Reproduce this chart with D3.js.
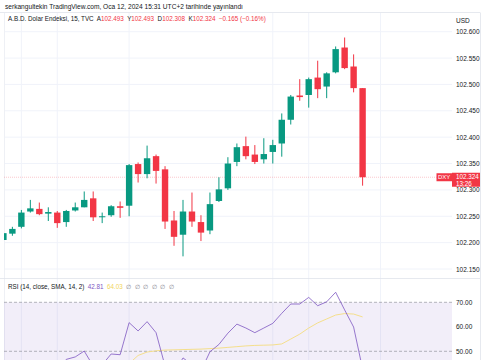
<!DOCTYPE html>
<html>
<head>
<meta charset="utf-8">
<script src="https://cdn.jsdelivr.net/npm/d3@7"></script>
<style>
  body { margin: 0; background: #fff; }
  svg { display: block; font-family: "Liberation Sans", Arial, sans-serif; }
</style>
</head>
<body>
<svg id="chart" width="485" height="360"></svg>
<script>
// 15 min DXY candles
const opens  = [102.205,102.217,102.230,102.259,102.264,102.255,102.257,102.239,102.261,102.267,
                102.284,102.249,102.252,102.269,102.270,102.349,102.330,102.364,102.339,102.242,
                102.215,102.259,102.239,102.223,102.279,102.303,102.353,102.383,102.367,102.358,
                102.372,102.388,102.433,102.479,102.480,102.513,102.496,102.523,102.570,102.534,102.493];
const highs  = [102.221,102.230,102.262,102.281,102.276,102.267,102.260,102.262,102.276,102.297,
                102.297,102.257,102.271,102.278,102.349,102.352,102.384,102.367,102.345,102.260,
                102.281,102.295,102.252,102.295,102.324,102.362,102.388,102.401,102.385,102.398,
                102.395,102.445,102.480,102.510,102.513,102.545,102.523,102.572,102.589,102.557,102.493];
const lows   = [102.200,102.213,102.227,102.257,102.252,102.241,102.228,102.230,102.259,102.267,
                102.241,102.237,102.249,102.247,102.250,102.314,102.322,102.312,102.226,102.194,
                102.174,102.230,102.203,102.216,102.277,102.300,102.345,102.358,102.349,102.350,
                102.350,102.363,102.424,102.469,102.456,102.474,102.474,102.521,102.529,102.485,102.308];
const closes = [102.218,102.226,102.257,102.265,102.254,102.258,102.237,102.260,102.267,102.281,
                102.248,102.250,102.269,102.266,102.347,102.330,102.360,102.336,102.240,102.211,
                102.259,102.240,102.219,102.273,102.301,102.350,102.381,102.364,102.353,102.368,
                102.385,102.433,102.477,102.476,102.510,102.491,102.521,102.567,102.531,102.493,102.324];

const rsi   = [38,40,44,45,43,44,41,46.7,47.7,50.1,
               44,44.5,48.9,48.6,61.7,58.3,62.1,57.6,44,41,
               47.3,44.5,42,49.8,52.8,57.4,61.1,59.5,57.6,59.5,
               61.4,65.5,69.3,69.3,72,68.6,70.2,74.1,66.9,59.9,42.81];
const rsiMa = [null,null,null,null,null,null,null,null,null,null,
               null,null,null,null,45,48.3,49.7,50.2,50.5,50.6,
               50.7,50.8,50.9,51.1,51.3,51.6,51.9,52.2,52.4,52.5,
               52.6,53.0,55.0,57.0,59.5,61.6,63.2,64.8,65.4,65.2,64.03];

const priceTicks = [102.15,102.20,102.25,102.30,102.35,102.40,102.45,102.50,102.55,102.60];
const rsiTicks = [50,60,70];
const timeGridIdx = [2,6,14,30,34,42];

const UP = "#089981", DOWN = "#F23645";
const svg = d3.select("#chart");
const plotL = 4, plotR = 452, axisR = 480;
const priceTop = 13, priceBot = 278, rsiTop = 279, rsiBot = 360;

const x = d3.scaleLinear().domain([0, 40]).range([3.4, 362.6]);
const y = d3.scaleLinear().domain([102.15, 102.60]).range([269, 31.7]);
const yr = d3.scaleLinear().domain([50, 70]).range([351.3, 302.3]);

const defs = svg.append("defs");
defs.append("clipPath").attr("id", "clipPrice").append("rect")
  .attr("x", plotL).attr("y", priceTop).attr("width", plotR - plotL).attr("height", priceBot - priceTop);
defs.append("clipPath").attr("id", "clipRsi").append("rect")
  .attr("x", plotL).attr("y", rsiTop).attr("width", plotR - plotL).attr("height", rsiBot - rsiTop);

// header
svg.append("text").attr("x", 5).attr("y", 8.6).attr("font-size", 6.6).attr("fill", "#131722")
  .text("serkangultekin TradingView.com, Oca 12, 2024 15:31 UTC+2 tarihinde yayınlandı");
svg.append("line").attr("x1", 0).attr("x2", axisR).attr("y1", 12.5).attr("y2", 12.5)
  .attr("stroke", "#e0e3eb").attr("stroke-width", 0.8);

// grid
const grid = svg.append("g");
grid.selectAll(".hg").data(priceTicks).enter().append("line")
  .attr("x1", plotL).attr("x2", plotR).attr("y1", d => y(d)).attr("y2", d => y(d))
  .attr("stroke", "#f0f3fa").attr("stroke-width", 1);
grid.selectAll(".vg").data(timeGridIdx).enter().append("line")
  .attr("x1", d => x(d)).attr("x2", d => x(d)).attr("y1", priceTop).attr("y2", rsiBot)
  .attr("stroke", "#f0f3fa").attr("stroke-width", 1);
grid.append("line").attr("x1", plotL + 0.5).attr("x2", plotL + 0.5).attr("y1", priceTop).attr("y2", rsiBot)
  .attr("stroke", "#eef0f5");

// RSI band
const rsiG = svg.append("g").attr("clip-path", "url(#clipRsi)");
rsiG.append("rect").attr("x", plotL).attr("width", plotR - plotL)
  .attr("y", yr(70)).attr("height", yr(30) - yr(70)).attr("fill", "#7E57C2").attr("fill-opacity", 0.1);
rsiG.selectAll(".lvl").data([70, 50, 30]).enter().append("line")
  .attr("x1", plotL).attr("x2", plotR).attr("y1", d => yr(d)).attr("y2", d => yr(d))
  .attr("stroke", "#9598a1").attr("stroke-width", 0.7).attr("stroke-dasharray", "3,2");

// candles
const priceG = svg.append("g").attr("clip-path", "url(#clipPrice)");
priceG.append("line").attr("x1", plotL).attr("x2", plotR)
  .attr("y1", y(closes[40])).attr("y2", y(closes[40]))
  .attr("stroke", DOWN).attr("stroke-opacity", 0.35).attr("stroke-width", 0.8).attr("stroke-dasharray", "1,1");

const idx = d3.range(opens.length);
const col = i => closes[i] >= opens[i] ? UP : DOWN;
priceG.selectAll(".wick").data(idx).enter().append("line")
  .attr("x1", i => x(i)).attr("x2", i => x(i))
  .attr("y1", i => y(highs[i])).attr("y2", i => y(lows[i]))
  .attr("stroke", col).attr("stroke-width", 1);
const bw = 6.4;
priceG.selectAll(".body").data(idx).enter().append("rect")
  .attr("x", i => x(i) - bw / 2).attr("width", bw)
  .attr("y", i => y(Math.max(opens[i], closes[i])))
  .attr("height", i => Math.max(1, Math.abs(y(opens[i]) - y(closes[i]))))
  .attr("fill", col);

// RSI lines
const line = d3.line().defined(d => d[1] != null).x(d => x(d[0])).y(d => yr(d[1]));
rsiG.append("path").attr("d", line(rsiMa.map((v, i) => [i, v])))
  .attr("fill", "none").attr("stroke", "#f5df8c").attr("stroke-width", 1);
rsiG.append("path").attr("d", line(rsi.map((v, i) => [i, v])))
  .attr("fill", "none").attr("stroke", "#7E57C2").attr("stroke-width", 0.8);

// pane separator and right border
svg.append("line").attr("x1", 0).attr("x2", axisR).attr("y1", 278.5).attr("y2", 278.5)
  .attr("stroke", "#e0e3eb").attr("stroke-width", 0.8);
svg.append("line").attr("x1", axisR + 0.5).attr("x2", axisR + 0.5).attr("y1", 12.5).attr("y2", rsiBot)
  .attr("stroke", "#e0e3eb").attr("stroke-width", 0.8);

// axes
const axisStyle = g => {
  g.select(".domain").remove();
  g.selectAll("text").attr("fill", "#131722").attr("font-size", 6.5)
    .attr("font-family", "Liberation Sans, Arial, sans-serif");
};
svg.append("g").attr("transform", `translate(${plotR},0)`)
  .call(d3.axisRight(y).tickValues(priceTicks).tickSize(0).tickPadding(4).tickFormat(d3.format(".3f")))
  .call(axisStyle);
svg.append("g").attr("transform", `translate(${plotR},0)`)
  .call(d3.axisRight(yr).tickValues(rsiTicks).tickSize(0).tickPadding(4).tickFormat(d3.format(".2f")))
  .call(axisStyle);
svg.append("text").attr("x", 456).attr("y", 22.5).attr("font-size", 6.5).attr("fill", "#131722").text("USD");

// last price labels
const ly = y(closes[40]);
svg.append("rect").attr("x", plotR).attr("y", ly - 4.5).attr("width", axisR - plotR).attr("height", 14)
  .attr("fill", DOWN);
svg.append("text").attr("x", 456).attr("y", ly + 2).attr("font-size", 6.3).attr("fill", "#fff").text("102.324");
svg.append("text").attr("x", 456).attr("y", ly + 8.6).attr("font-size", 6.3).attr("fill", "#fff").text("13:26");
svg.append("rect").attr("x", 436.5).attr("y", ly - 4).attr("width", 15.5).attr("height", 8)
  .attr("fill", DOWN);
svg.append("text").attr("x", 444.2).attr("y", ly + 2.2).attr("font-size", 6).attr("fill", "#fff")
  .attr("text-anchor", "middle").text("DXY");

// price legend
const leg = svg.append("text").attr("x", 8).attr("y", 20.6).attr("font-size", 6.3).attr("fill", "#131722")
  .attr("style", "white-space:pre");
const legParts = [
  ["A.B.D. Dolar Endeksi, 15, TVC  ", "#131722"],
  ["A", "#131722"], ["102.493  ", DOWN],
  ["Y", "#131722"], ["102.493  ", DOWN],
  ["D", "#131722"], ["102.308  ", DOWN],
  ["K", "#131722"], ["102.324  ", DOWN],
  ["−0.165 (−0.16%)", DOWN]
];
leg.selectAll("tspan").data(legParts).enter().append("tspan")
  .attr("fill", d => d[1]).text(d => d[0]);

// RSI legend
const rleg = svg.append("text").attr("x", 8).attr("y", 288.6).attr("font-size", 6.3).attr("fill", "#131722")
  .attr("style", "white-space:pre");
const rlegParts = [
  ["RSI (14, close, SMA, 14, 2)  ", "#131722"],
  ["42.81  ", "#7E57C2"],
  ["64.03  ", "#f2d65c"],
  ["∅  ∅  ∅  ∅  ∅  ∅", "#787b86"]
];
rleg.selectAll("tspan").data(rlegParts).enter().append("tspan")
  .attr("fill", d => d[1]).text(d => d[0]);
</script>
</body>
</html>
